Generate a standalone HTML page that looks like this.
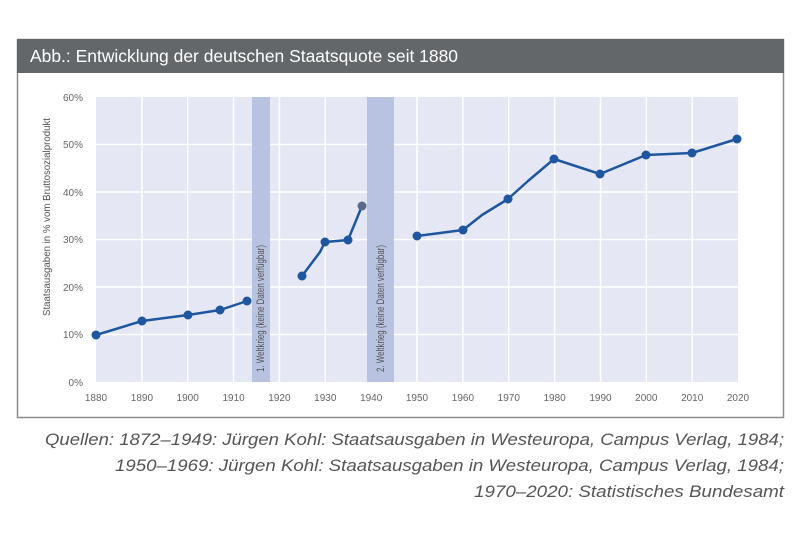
<!DOCTYPE html>
<html><head><meta charset="utf-8"><style>
body{margin:0;background:#fff;width:800px;height:534px;overflow:hidden;font-family:"Liberation Sans",sans-serif}
</style></head><body>
<svg width="800" height="534" xmlns="http://www.w3.org/2000/svg" font-family="Liberation Sans, sans-serif">
<rect x="17.5" y="39.5" width="766" height="378" fill="#fff" stroke="#8a8d90" stroke-width="1.5"/>
<rect x="17" y="39" width="767" height="34" fill="#63676a"/>
<text x="30" y="62" fill="#fff" font-size="17.5" textLength="428" lengthAdjust="spacingAndGlyphs">Abb.: Entwicklung der deutschen Staatsquote seit 1880</text>
<rect x="96" y="97" width="642" height="285" fill="#e5e8f4"/>
<g stroke="#fff" stroke-width="1.5">
<line x1="96" y1="144.5" x2="738" y2="144.5"/><line x1="96" y1="192" x2="738" y2="192"/><line x1="96" y1="239.5" x2="738" y2="239.5"/><line x1="96" y1="287" x2="738" y2="287"/><line x1="96" y1="334.5" x2="738" y2="334.5"/>
<line x1="141.9" y1="97" x2="141.9" y2="382"/><line x1="187.7" y1="97" x2="187.7" y2="382"/><line x1="233.6" y1="97" x2="233.6" y2="382"/><line x1="279.4" y1="97" x2="279.4" y2="382"/><line x1="325.3" y1="97" x2="325.3" y2="382"/><line x1="371.2" y1="97" x2="371.2" y2="382"/><line x1="417" y1="97" x2="417" y2="382"/><line x1="462.9" y1="97" x2="462.9" y2="382"/><line x1="508.8" y1="97" x2="508.8" y2="382"/><line x1="554.6" y1="97" x2="554.6" y2="382"/><line x1="600.5" y1="97" x2="600.5" y2="382"/><line x1="646.3" y1="97" x2="646.3" y2="382"/><line x1="692.2" y1="97" x2="692.2" y2="382"/>
</g>
<rect x="252" y="97" width="18" height="285" fill="#b7c3e0"/>
<rect x="367" y="97" width="27" height="285" fill="#b7c3e0"/>
<text transform="translate(264,372) rotate(-90)" font-size="11" fill="#555" textLength="127" lengthAdjust="spacingAndGlyphs">1. Weltkrieg (keine Daten verfügbar)</text>
<text transform="translate(384,372) rotate(-90)" font-size="11" fill="#555" textLength="127" lengthAdjust="spacingAndGlyphs">2. Weltkrieg (keine Daten verfügbar)</text>
<g fill="#666" font-size="10" text-anchor="end">
<text x="83" y="101">60%</text><text x="83" y="148">50%</text><text x="83" y="196">40%</text><text x="83" y="243">30%</text><text x="83" y="291">20%</text><text x="83" y="338">10%</text><text x="83" y="386">0%</text>
</g>
<g fill="#666" font-size="10" text-anchor="middle">
<text x="96" y="401">1880</text><text x="141.9" y="401">1890</text><text x="187.7" y="401">1900</text><text x="233.6" y="401">1910</text><text x="279.4" y="401">1920</text><text x="325.3" y="401">1930</text><text x="371.2" y="401">1940</text><text x="417" y="401">1950</text><text x="462.9" y="401">1960</text><text x="508.8" y="401">1970</text><text x="554.6" y="401">1980</text><text x="600.5" y="401">1990</text><text x="646.3" y="401">2000</text><text x="692.2" y="401">2010</text><text x="738" y="401">2020</text>
</g>
<text transform="translate(50,316) rotate(-90)" font-size="10.5" fill="#555" textLength="198" lengthAdjust="spacingAndGlyphs">Staatsausgaben in % vom Bruttosozialprodukt</text>
<g fill="none" stroke="#1f56a0" stroke-width="2.5" stroke-linejoin="round">
<polyline points="96,335 142,321 188,315 220,310 247,301"/>
<polyline points="302,276 320,252 325,242 348,240 362,206"/>
<polyline points="417,236 463,230 482,215 508,199 528,181 554,159 600,174 646,155 692,153 737,139"/>
</g>
<g fill="#1f56a0">
<circle cx="96" cy="335" r="4.5"/><circle cx="142" cy="321" r="4.5"/><circle cx="188" cy="315" r="4.5"/><circle cx="220" cy="310" r="4.5"/><circle cx="247" cy="301" r="4.5"/>
<circle cx="302" cy="276" r="4.5"/><circle cx="325" cy="242" r="4.5"/><circle cx="348" cy="240" r="4.5"/>
<circle cx="417" cy="236" r="4.5"/><circle cx="463" cy="230" r="4.5"/><circle cx="508" cy="199" r="4.5"/><circle cx="554" cy="159" r="4.5"/><circle cx="600" cy="174" r="4.5"/><circle cx="646" cy="155" r="4.5"/><circle cx="692" cy="153" r="4.5"/><circle cx="737" cy="139" r="4.5"/>
</g>
<circle cx="362" cy="206" r="4.5" fill="#5b6b8c"/>
<g fill="#555" font-size="17" font-style="italic">
<text x="45" y="445" textLength="739" lengthAdjust="spacingAndGlyphs">Quellen: 1872–1949: Jürgen Kohl: Staatsausgaben in Westeuropa, Campus Verlag, 1984;</text>
<text x="115" y="471" textLength="669" lengthAdjust="spacingAndGlyphs">1950–1969: Jürgen Kohl: Staatsausgaben in Westeuropa, Campus Verlag, 1984;</text>
<text x="474" y="497" textLength="310" lengthAdjust="spacingAndGlyphs">1970–2020: Statistisches Bundesamt</text>
</g>
</svg>
</body></html>
